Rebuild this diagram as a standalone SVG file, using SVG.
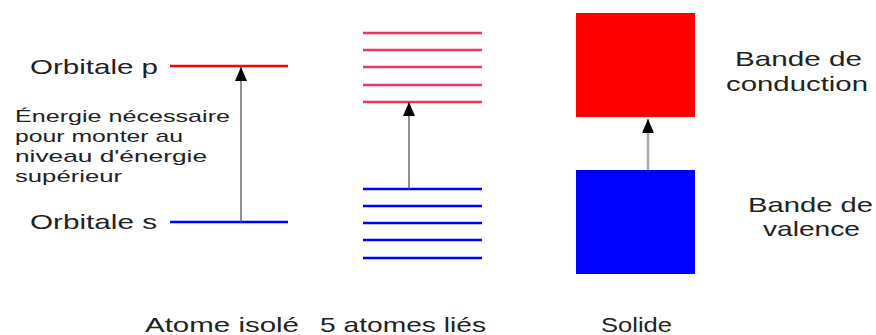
<svg xmlns="http://www.w3.org/2000/svg" width="876" height="335" viewBox="0 0 876 335">
  <defs>
    <style>
      text { font-family: "Liberation Sans", Arial, sans-serif; fill: #222; }
      .lbl { font-size: 21px; }
      .para { font-size: 17px; }
      .red { stroke: #ff0000; stroke-width: 2.5; }
      .blue { stroke: #0000ff; stroke-width: 2.5; }
      .pink { stroke: #f2335f; stroke-width: 2.5; }
      .arrow { stroke: #555; stroke-width: 1.3; fill: none; }
      .arrow-light { stroke: #aaaaaa; stroke-width: 2.5; fill: none; }
    </style>
    <!-- filled triangular head, tip at the end of the line -->
    <marker id="head" viewBox="0 0 14 12" refX="14" refY="6" markerWidth="14" markerHeight="12" markerUnits="userSpaceOnUse" orient="auto">
      <path d="M0 0 L14 6 L0 12 Z" fill="#000"/>
    </marker>
  </defs>

  <!-- Isolated atom: two orbital levels -->
  <g id="atome-isole">
    <line class="red" x1="170" y1="66" x2="288" y2="66"/>
    <line class="blue" x1="170" y1="222" x2="288" y2="222"/>
    <text class="lbl" x="30" y="74" textLength="128" lengthAdjust="spacingAndGlyphs">Orbitale p</text>
    <text class="lbl" x="30" y="229" textLength="127" lengthAdjust="spacingAndGlyphs">Orbitale s</text>
    <text class="para" x="15" y="122" textLength="215" lengthAdjust="spacingAndGlyphs">Énergie nécessaire</text>
    <text class="para" x="15" y="142" textLength="168" lengthAdjust="spacingAndGlyphs">pour monter au</text>
    <text class="para" x="15" y="162" textLength="192" lengthAdjust="spacingAndGlyphs">niveau d'énergie</text>
    <text class="para" x="15" y="182" textLength="107" lengthAdjust="spacingAndGlyphs">supérieur</text>
    <text class="lbl" x="145" y="332" textLength="154" lengthAdjust="spacingAndGlyphs">Atome isolé</text>
  </g>

  <!-- Five bonded atoms: split levels -->
  <g id="cinq-atomes">
    <line class="pink" x1="363" y1="33" x2="482" y2="33"/>
    <line class="pink" x1="363" y1="50" x2="482" y2="50"/>
    <line class="pink" x1="363" y1="67" x2="482" y2="67"/>
    <line class="pink" x1="363" y1="85" x2="482" y2="85"/>
    <line class="pink" x1="363" y1="102" x2="482" y2="102"/>
    <line class="blue" x1="363" y1="189" x2="482" y2="189"/>
    <line class="blue" x1="363" y1="206" x2="482" y2="206"/>
    <line class="blue" x1="363" y1="223" x2="482" y2="223"/>
    <line class="blue" x1="363" y1="240" x2="482" y2="240"/>
    <line class="blue" x1="363" y1="258" x2="482" y2="258"/>
    <text class="lbl" x="320" y="332" textLength="166" lengthAdjust="spacingAndGlyphs">5 atomes liés</text>
  </g>

  <!-- Solid: continuous bands -->
  <g id="solide">
    <rect x="576" y="13" width="119" height="104" fill="#ff0000"/>
    <rect x="576" y="170" width="119" height="104" fill="#0000ff"/>
    <text class="lbl" x="601" y="332" textLength="71" lengthAdjust="spacingAndGlyphs">Solide</text>
  </g>

  <g id="bande-conduction">
    <text class="lbl" x="735" y="66" textLength="127" lengthAdjust="spacingAndGlyphs">Bande de</text>
    <text class="lbl" x="726" y="91" textLength="142" lengthAdjust="spacingAndGlyphs">conduction</text>
  </g>

  <g id="bande-valence">
    <text class="lbl" x="748" y="212" textLength="125" lengthAdjust="spacingAndGlyphs">Bande de</text>
    <text class="lbl" x="763" y="236" textLength="97" lengthAdjust="spacingAndGlyphs">valence</text>
  </g>

  <!-- Transitions -->
  <g id="connecteurs">
    <line class="arrow" x1="241" y1="222" x2="241" y2="67" marker-end="url(#head)"/>
    <line class="arrow" x1="409" y1="189" x2="409" y2="102" marker-end="url(#head)"/>
    <line class="arrow-light" x1="648" y1="170" x2="648" y2="119" marker-end="url(#head)"/>
  </g>
</svg>
